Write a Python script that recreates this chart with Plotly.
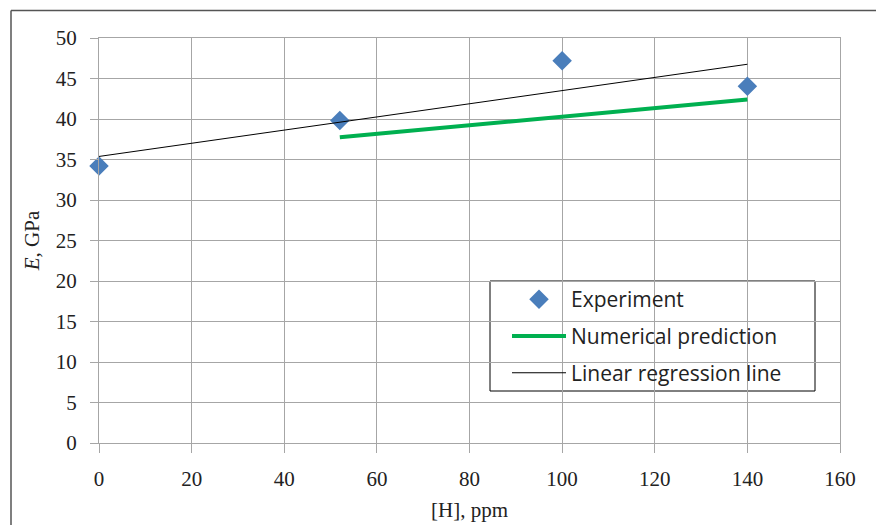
import numpy as np
import plotly.graph_objects as go

# Measured Young's modulus versus hydrogen content
h_exp = [0, 52, 100, 140]
e_exp = [34.2, 39.8, 47.2, 44.05]

# Numerical model prediction
h_num = [52, 100, 140]
e_num = [37.75, 40.3, 42.4]

x_ticks = [0, 20, 40, 60, 80, 100, 120, 140, 160]
y_ticks = [0, 5, 10, 15, 20, 25, 30, 35, 40, 45, 50]

# Least-squares fit through the experimental points
slope, intercept = np.polyfit(h_exp, e_exp, 1)
h_fit = [min(h_exp), max(h_exp)]
e_fit = [intercept + slope * h for h in h_fit]

W, H = 876, 525
ML, MR, MT, MB = 99, 36, 38, 82
pw, ph = W - ML - MR, H - MT - MB

def px_to_paper_x(px):
    return (px - ML) / pw

def px_to_paper_y(py):
    return (H - MB - py) / ph

grid = "#a6a6a6"
serif = "Liberation Serif"

fig = go.Figure()
fig.add_trace(go.Scatter(
    x=h_exp, y=e_exp, mode="markers", name="Experiment",
    legendgroup="a", cliponaxis=False,
    marker=dict(symbol="diamond", size=15, color="#4a7ebb"),
))
fig.add_trace(go.Scatter(
    x=h_num, y=e_num, mode="lines", name="Numerical prediction",
    legendgroup="b",
    line=dict(color="#00b050", width=4),
))
fig.add_trace(go.Scatter(
    x=h_fit, y=e_fit, mode="lines", name="Linear regression line",
    legendgroup="c",
    line=dict(color="#000000", width=1),
))

axis_common = dict(
    showgrid=True, gridcolor=grid, gridwidth=1.2,
    showline=True, linecolor=grid, linewidth=1.2, mirror=True,
    ticks="outside", tickcolor=grid, tickwidth=1.2,
    tickfont=dict(family=serif, size=21, color="#222222"),
    zeroline=False, automargin=False,
)

fig.update_layout(
    width=W, height=H,
    margin=dict(l=ML, r=MR, t=MT, b=MB),
    paper_bgcolor="white", plot_bgcolor="white",
    xaxis=dict(
        range=[0, 160], tickvals=x_ticks, ticklen=9, ticklabelstandoff=8,
        title=dict(text="[H], ppm", font=dict(family=serif, size=21, color="#222222"), standoff=12),
        **axis_common,
    ),
    yaxis=dict(
        range=[0, 50], tickvals=y_ticks, ticklen=8, ticklabelstandoff=9,
        title=dict(text="<i>E</i>, GPa", font=dict(family=serif, size=21, color="#222222"), standoff=10),
        **axis_common,
    ),
    legend=dict(
        x=px_to_paper_x(507), y=px_to_paper_y(279),
        xanchor="left", yanchor="top",
        bgcolor="rgba(0,0,0,0)", borderwidth=0,
        font=dict(family="Open Sans", size=21, color="#222222"),
        tracegroupgap=6.5, itemwidth=54,
    ),
    showlegend=True,
    shapes=[
        # legend frame
        dict(type="rect", xref="paper", yref="paper", layer="below",
             x0=px_to_paper_x(490), x1=px_to_paper_x(815),
             y0=px_to_paper_y(391), y1=px_to_paper_y(281),
             line=dict(color="#000000", width=1), fillcolor="white"),
        # outer frame
        dict(type="line", xref="paper", yref="paper",
             x0=px_to_paper_x(11), x1=px_to_paper_x(890),
             y0=px_to_paper_y(10.5), y1=px_to_paper_y(10.5),
             line=dict(color="#555555", width=1.5)),
        dict(type="line", xref="paper", yref="paper",
             x0=px_to_paper_x(11), x1=px_to_paper_x(11),
             y0=px_to_paper_y(10.5), y1=px_to_paper_y(540),
             line=dict(color="#555555", width=1.5)),
    ],
)

fig.write_html("out.html")
